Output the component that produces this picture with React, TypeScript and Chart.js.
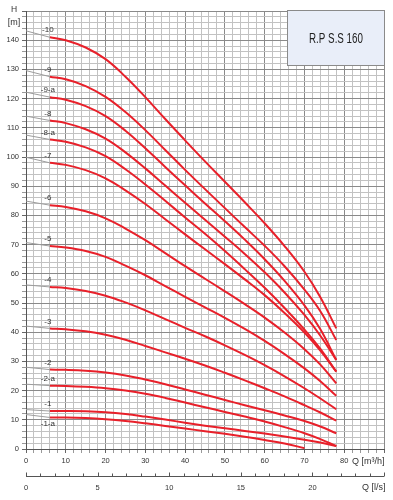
import React, { useEffect, useRef } from 'react';
import { Chart, registerables } from 'chart.js';

Chart.register(...registerables);

// Flow points (m³/h) where the head values were read
const Q_POINTS = [6, 10, 15, 20, 25, 30, 35, 40, 45, 50, 55, 60, 65, 70, 74, 78];
const Q_POINTS_1A = [6, 10, 15, 20, 25, 30, 35, 40, 45, 50, 55, 60, 65, 70];
const Q_GRAY = [0, 6];

// Head values (m) for each model
const H_10 = [141, 140, 137.5, 133.5, 127.5, 120.5, 113, 105.7, 98.5, 91.5, 84.5, 77.3, 69.5, 60.7, 52, 41.3];
const H_9 = [127.5, 126.6, 124.3, 120.6, 115.4, 109.2, 102.4, 95.6, 89, 82.5, 76, 69.6, 62.6, 54.6, 47.2, 37.3];
const H_9A = [120.5, 119.6, 117.4, 114, 109, 103, 96.6, 90.3, 84.1, 78, 71.7, 65, 57.6, 49.2, 41, 30.5];
const H_8 = [112.5, 111.6, 109.5, 106.3, 101.6, 96.1, 90.2, 84.3, 78.5, 72.7, 66.8, 60.5, 53.6, 45.9, 38.8, 30.5];
const H_8A = [106, 105.2, 103.3, 100.3, 95.8, 90.6, 85, 79.3, 73.7, 67.8, 61.6, 55.2, 48.3, 40.9, 34.3, 26.5];
const H_7 = [98, 97.3, 95.5, 92.7, 88.6, 83.9, 78.7, 73.5, 68.4, 63.3, 58.1, 52.7, 46.6, 39.9, 33.7, 26.5];
const H_6 = [83.5, 82.9, 81.4, 79, 75.5, 71.5, 67.1, 62.6, 58.3, 54, 49.6, 45, 39.9, 34.2, 28.9, 22.5];
const H_5 = [69.5, 69, 67.8, 65.8, 62.8, 59.5, 55.8, 52.1, 48.5, 44.9, 41.1, 37, 32.5, 27.6, 23.2, 18.2];
const H_4 = [55.5, 55.1, 54.1, 52.5, 50.2, 47.5, 44.5, 41.5, 38.6, 35.5, 32.2, 28.7, 24.9, 20.8, 17.3, 13.6];
const H_3 = [41.3, 41, 40.3, 39.1, 37.4, 35.3, 33.1, 30.9, 28.6, 26.1, 23.5, 20.8, 18, 15, 12.5, 9.7];
const H_2 = [27.2, 27.1, 26.8, 26.2, 25.2, 23.8, 22.2, 20.4, 18.6, 16.8, 15, 13.3, 11.5, 9.6, 7.7, 5.4];
const H_2A = [21.7, 21.6, 21.3, 20.8, 20, 18.9, 17.5, 15.9, 14.3, 12.7, 11.1, 9.4, 7.5, 5.4, 3.4, 1.0];
const H_1 = [13, 13, 12.9, 12.6, 12, 11.1, 10.1, 9, 8, 7.1, 6.2, 5.3, 4.3, 3.2, 2.2, 1.0];
const H_1A = [10.8, 10.8, 10.6, 10.2, 9.6, 8.8, 7.9, 7, 6.1, 5.2, 4.2, 3.1, 1.9, 0.3];

// Head at Q = 0 (grey extension start)
const H_START = [143.2, 129.6, 122.2, 114, 107.5, 99.9, 84.9, 70.7, 56.2, 42.1, 28, 22.2, 13.5, 11.8];

const CURVE_LABELS = ['-10', '-9', '-9-a', '-8', '-8-a', '-7', '-6', '-5', '-4', '-3', '-2', '-2-a', '-1', '-1-a'];
const CURVES = [H_10, H_9, H_9A, H_8, H_8A, H_7, H_6, H_5, H_4, H_3, H_2, H_2A, H_1, H_1A];

const LS_TICKS = [0, 5, 10, 15, 20];
const LS_MAX = 25;
const M3H_PER_LS = 3.6;
const TITLE = 'R.P S.S 160';

const FONT = '"Liberation Sans", Arial, Helvetica, sans-serif';

export default function App() {
  const ref = useRef<HTMLCanvasElement>(null);

  useEffect(() => {
    document.body.style.margin = '0';
    const canvas = ref.current;
    if (!canvas) return;
    const red = '#e8202a';
    const gray = '#9c9c9c';
    const major = '#8a8a8a';
    const minor = '#c2c2c2';

    const datasets: any[] = [];
    CURVES.forEach((arr, i) => {
      const qs = arr.length === Q_POINTS.length ? Q_POINTS : Q_POINTS_1A;
      datasets.push({
        label: CURVE_LABELS[i] + ' ext',
        data: [
          { x: Q_GRAY[0], y: H_START[i] },
          { x: Q_GRAY[1], y: arr[0] },
        ],
        borderColor: gray,
        borderWidth: 1,
        pointRadius: 0,
        fill: false,
      });
      datasets.push({
        label: CURVE_LABELS[i],
        data: arr.map((h, j) => ({ x: qs[j], y: h })),
        borderColor: red,
        borderWidth: 2,
        pointRadius: 0,
        tension: 0.4,
        fill: false,
      });
    });

    const overlay = {
      id: 'overlay',
      afterDraw(chart: any) {
        const { ctx, scales } = chart;
        const x = scales.x;
        const y = scales.y;
        ctx.save();

        // curve labels
        ctx.font = `8px ${FONT}`;
        ctx.fillStyle = '#333';
        ctx.textAlign = 'center';
        ctx.textBaseline = 'middle';
        CURVE_LABELS.forEach((lab, i) => {
          const px = x.getPixelForValue(Q_POINTS[0]) - 2;
          const py = y.getPixelForValue(CURVES[i][0]) + (lab === '-1-a' ? 6.5 : -7);
          ctx.fillText(lab, px, py);
        });

        // axis titles
        ctx.fillStyle = '#333';
        ctx.font = `8.5px ${FONT}`;
        ctx.fillText('H', 14, 10);
        ctx.font = `9px ${FONT}`;
        ctx.fillText('[m]', 14, 23);

        ctx.textAlign = 'left';
        ctx.font = `9px ${FONT}`;
        ctx.fillText('Q [m³/h]', 352, 462);

        // secondary l/s axis
        const axisY = 476.5;
        ctx.strokeStyle = '#555';
        ctx.lineWidth = 1;
        ctx.beginPath();
        ctx.moveTo(x.left, axisY);
        ctx.lineTo(x.right, axisY);
        ctx.stroke();
        for (let ls = 0; ls <= LS_MAX; ls++) {
          const px = Math.round(x.getPixelForValue(ls * M3H_PER_LS)) + 0.5;
          const isMajor = ls % 5 === 0;
          ctx.beginPath();
          ctx.moveTo(px, axisY - (isMajor ? 4 : 3));
          ctx.lineTo(px, axisY);
          ctx.stroke();
        }
        ctx.textAlign = 'center';
        ctx.font = `7.5px ${FONT}`;
        LS_TICKS.forEach((ls) => {
          ctx.fillText(String(ls), x.getPixelForValue(ls * M3H_PER_LS), 488);
        });
        ctx.textAlign = 'left';
        ctx.font = `9px ${FONT}`;
        ctx.fillText('Q [l/s]', 362, 488);

        // title box
        const bx = 287.5, by = 10.5, bw = 97, bh = 55;
        ctx.fillStyle = '#e9eef9';
        ctx.fillRect(bx, by, bw, bh);
        ctx.strokeStyle = '#8a8a8a';
        ctx.lineWidth = 1;
        ctx.strokeRect(bx, by, bw, bh);
        ctx.fillStyle = '#222';
        ctx.textAlign = 'center';
        ctx.textBaseline = 'middle';
        ctx.translate(bx + bw / 2, by + bh / 2 + 1);
        ctx.scale(0.7, 1);
        ctx.font = `14px ${FONT}`;
        ctx.fillText(TITLE, 0, 0);

        ctx.restore();
      },
    };

    const chart = new Chart(canvas, {
      type: 'line',
      data: { datasets },
      options: {
        animation: false,
        responsive: false,
        devicePixelRatio: 1,
        layout: { padding: { top: 11, right: 9, left: 0, bottom: 0 } },
        plugins: { legend: { display: false }, tooltip: { enabled: false } },
        scales: {
          x: {
            type: 'linear',
            min: 0,
            max: 90,
            afterFit: (s: any) => {
              s.height = 51;
            },
            ticks: {
              stepSize: 2,
              autoSkip: false,
              maxRotation: 0,
              color: '#333',
              padding: 3,
              font: { size: 7.5, family: FONT },
              callback: (v: any) => {
                const n = Math.round(Number(v));
                return n % 10 === 0 && n <= 80 ? String(n) : '';
              },
            },
            grid: {
              color: (c: any) => (Math.round(c.tick.value) % 10 === 0 ? major : minor),
              tickColor: (c: any) => (Math.round(c.tick.value) % 10 === 0 ? '#666' : '#999'),
              tickLength: 4,
              lineWidth: 1,
            },
            border: { color: '#555' },
          },
          y: {
            type: 'linear',
            min: 0,
            max: 150,
            afterFit: (s: any) => {
              s.width = 26;
            },
            ticks: {
              stepSize: 2,
              autoSkip: false,
              color: '#333',
              padding: 3,
              font: { size: 7.5, family: FONT },
              callback: (v: any) => {
                const n = Math.round(Number(v));
                return n % 10 === 0 && n <= 140 ? String(n) : '';
              },
            },
            grid: {
              color: (c: any) => (Math.round(c.tick.value) % 10 === 0 ? major : minor),
              tickColor: (c: any) => (Math.round(c.tick.value) % 10 === 0 ? '#666' : '#999'),
              tickLength: 4,
              lineWidth: 1,
            },
            border: { color: '#555' },
          },
        },
      },
      plugins: [overlay],
    } as any);

    return () => {
      chart.destroy();
    };
  }, []);

  return <canvas ref={ref} width={393} height={500} style={{ display: 'block', width: 393, height: 500 }} />;
}
